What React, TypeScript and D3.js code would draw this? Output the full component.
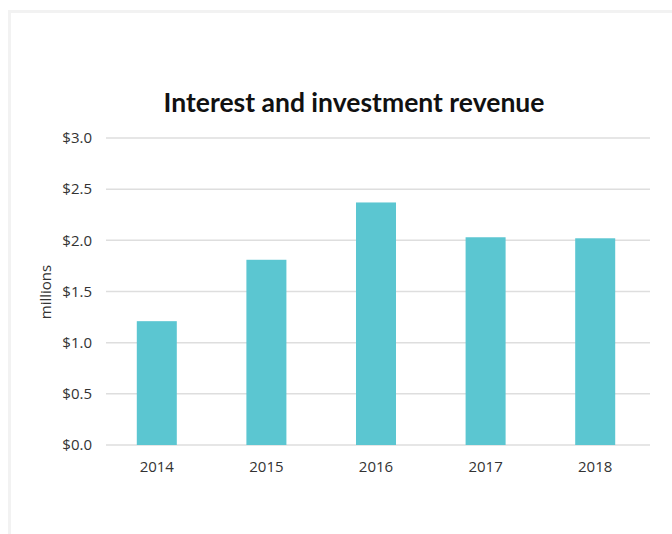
import React, { useEffect, useRef } from 'react';
import * as d3 from 'd3';

const years = ['2014', '2015', '2016', '2017', '2018'];
const revenue = [1.21, 1.81, 2.37, 2.03, 2.02];
const yTicks = [0, 0.5, 1.0, 1.5, 2.0, 2.5, 3.0];

const W = 672;
const H = 534;

function App() {
  const svgRef = useRef<SVGSVGElement>(null);

  useEffect(() => {
    const svg = d3.select(svgRef.current);
    svg.selectAll('*').remove();

    const font = '"Open Sans", Lato, sans-serif';
    const titleFont = 'Lato, "Open Sans", sans-serif';

    // light frame around the card (runs past the window on right and bottom)
    svg.append('rect')
      .attr('x', 9.5).attr('y', 11.5)
      .attr('width', 800).attr('height', 700)
      .style('fill', '#fff')
      .style('stroke', '#f2f2f2')
      .style('stroke-width', 3);

    const x = d3.scaleBand<string>()
      .domain(years)
      .range([102, 650])
      .paddingInner(0.635)
      .paddingOuter(0.3175);

    const y = d3.scaleLinear()
      .domain([0, 3])
      .range([445, 138]);

    // grid lines
    svg.append('g')
      .selectAll('line')
      .data(yTicks)
      .join('line')
      .attr('x1', 106)
      .attr('x2', 650)
      .attr('y1', d => y(d))
      .attr('y2', d => y(d))
      .style('stroke', '#dedede')
      .style('stroke-width', 1.5);

    // y tick labels
    svg.append('g')
      .selectAll('text')
      .data(yTicks)
      .join('text')
      .attr('x', 92)
      .attr('y', d => y(d))
      .attr('dy', '0.35em')
      .attr('text-anchor', 'end')
      .style('font-family', font)
      .style('font-size', '15px')
      .style('fill', '#333')
      .text(d => `$${d.toFixed(1)}`);

    // bars
    svg.append('g')
      .selectAll('rect')
      .data(revenue)
      .join('rect')
      .attr('x', (d, i) => x(years[i])!)
      .attr('width', x.bandwidth())
      .attr('y', d => y(d))
      .attr('height', d => y(0) - y(d))
      .style('fill', '#5bc6d1');

    // x labels
    svg.append('g')
      .selectAll('text')
      .data(years)
      .join('text')
      .attr('x', d => x(d)! + x.bandwidth() / 2)
      .attr('y', 471.5)
      .attr('text-anchor', 'middle')
      .style('font-family', font)
      .style('font-size', '15px')
      .style('fill', '#333')
      .text(d => d);

    // axis label
    svg.append('text')
      .attr('transform', 'translate(51,292) rotate(-90)')
      .attr('text-anchor', 'middle')
      .style('font-family', font)
      .style('font-size', '15px')
      .style('fill', '#333')
      .text('millions');

    // title
    svg.append('text')
      .attr('x', 354)
      .attr('y', 111.5)
      .attr('text-anchor', 'middle')
      .style('font-family', titleFont)
      .style('font-size', '26.5px')
      .style('font-weight', 700)
      .style('fill', '#111')
      .text('Interest and investment revenue');
  }, []);

  return (
    <svg
      ref={svgRef}
      width={W}
      height={H}
      style={{ position: 'absolute', left: 0, top: 0, background: '#fff' }}
    />
  );
}

export default App;
